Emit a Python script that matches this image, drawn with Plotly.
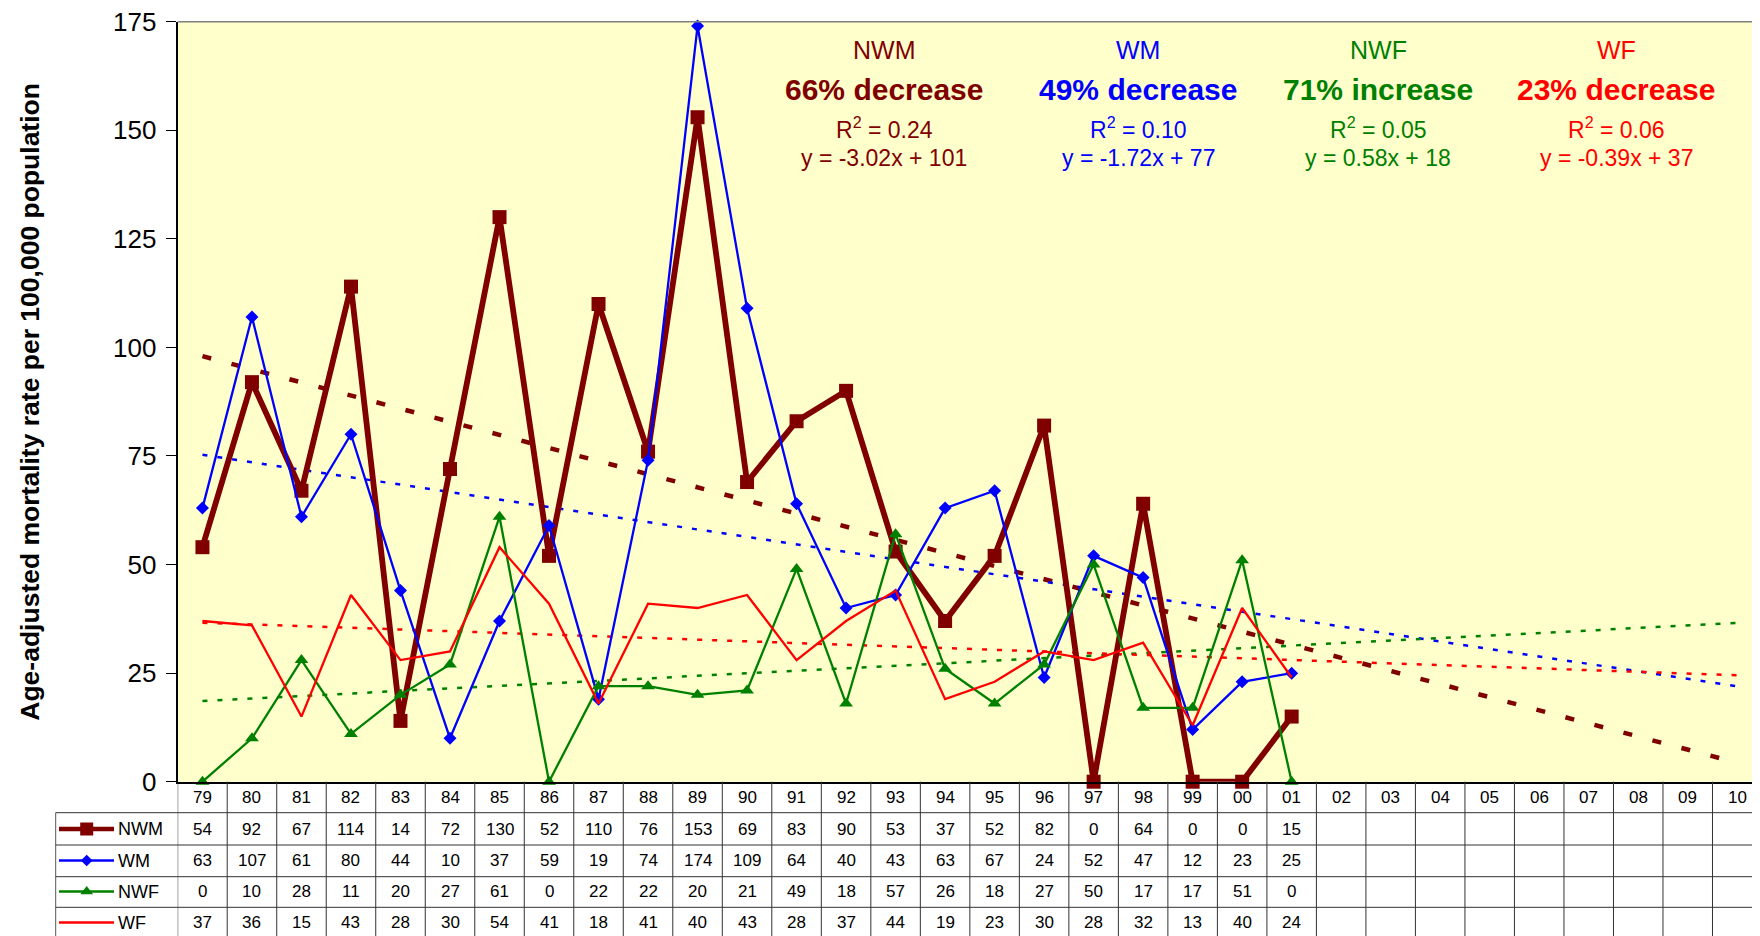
import plotly.graph_objects as go

# ── Data ──────────────────────────────────────────────────────────────────────
years = ["79", "80", "81", "82", "83", "84", "85", "86", "87", "88", "89",
         "90", "91", "92", "93", "94", "95", "96", "97", "98", "99", "00",
         "01", "02", "03", "04", "05", "06", "07", "08", "09", "10"]

nwm = [54, 92, 67, 114, 14, 72, 130, 52, 110, 76, 153, 69, 83, 90, 53, 37,
       52, 82, 0, 64, 0, 0, 15]
wm = [63, 107, 61, 80, 44, 10, 37, 59, 19, 74, 174, 109, 64, 40, 43, 63,
      67, 24, 52, 47, 12, 23, 25]
nwf = [0, 10, 28, 11, 20, 27, 61, 0, 22, 22, 20, 21, 49, 18, 57, 26,
       18, 27, 50, 17, 17, 51, 0]
wf = [37, 36, 15, 43, 28, 30, 54, 41, 18, 41, 40, 43, 28, 37, 44, 19,
      23, 30, 28, 32, 13, 40, 24]

series_names = ["NWM", "WM", "NWF", "WF"]
change_text = ["66% decrease", "49% decrease", "71% increase", "23% decrease"]
r_squared = [0.24, 0.10, 0.05, 0.06]
slopes = [-3.02, -1.72, 0.58, -0.39]
intercepts = [101, 77, 18, 37]

# ── Styling ───────────────────────────────────────────────────────────────────
W, H = 1760, 936
OFF = 8          # page body margin: figure is drawn 8px in from the window corner
FONT = "Liberation Sans, Arial, sans-serif"
PLOT_L, PLOT_T, PLOT_B = 177.7, 21.7, 781.7
ROW_Y = [797, 829, 860.5, 891.5, 922.5]          # header + 4 rows (screen px centres)
ROW_LINES = [812.7, 845, 876.7, 907.3]
TABLE_L = 55.7

COLORS = ["#800000", "#0000FF", "#008000", "#FF0000"]
LINE_W = [5.8, 2.3, 2.3, 2.3]
MARKERS = [dict(symbol="square", size=14), dict(symbol="diamond", size=10),
           dict(symbol="triangle-up", size=12), None]
TREND_W = [4.5, 2.5, 2.5, 2.5]
TREND_DASH = ["9px,21px", "5px,10px", "5px,10px", "5px,10px"]
LABEL_X = [884, 1138, 1378, 1616]


def py(px):   # screen pixel row -> paper y
    return 1 - (px - OFF) / H


def pxx(px):  # screen pixel column -> paper x
    return (px - OFF) / W


def txt_ann(x, y, text, size, color="black", xref="paper", xanchor="center", angle=0):
    return dict(x=x, y=y, xref=xref, yref="paper", text=text, showarrow=False,
                xanchor=xanchor, yanchor="middle", textangle=angle,
                font=dict(size=size, color=color, family=FONT))


fig = go.Figure()
data = [nwm, wm, nwf, wf]

# trend lines (Excel numbering x = 1..32)
for i in range(4):
    k0, k1 = 1, len(years)
    fig.add_trace(go.Scatter(
        x=[years[0], years[-1]],
        y=[slopes[i] * k0 + intercepts[i], slopes[i] * k1 + intercepts[i]],
        mode="lines",
        line=dict(color=COLORS[i], width=TREND_W[i], dash=TREND_DASH[i]),
        showlegend=False, hoverinfo="skip", cliponaxis=False,
    ))

# series
for i in range(4):
    mk = MARKERS[i]
    fig.add_trace(go.Scatter(
        x=years[:len(data[i])],
        y=data[i],
        mode="lines+markers" if mk else "lines",
        line=dict(color=COLORS[i], width=LINE_W[i]),
        marker=dict(color=COLORS[i], line=dict(width=0), **mk) if mk else None,
        name=series_names[i], showlegend=False, cliponaxis=False,
    ))

# legend keys in the table (pixel overlay axes, figure pixels)
for i in range(4):
    mk = MARKERS[i]
    yk = ROW_Y[i + 1] - OFF
    xs = [59 - OFF, 86.7 - OFF, 114 - OFF]
    fig.add_trace(go.Scatter(
        x=xs, y=[yk, yk, yk],
        xaxis="x2", yaxis="y2",
        mode="lines",
        line=dict(color=COLORS[i], width=4.5 if i == 0 else 2.5),
        showlegend=False, hoverinfo="skip", cliponaxis=False,
    ))
    if mk:
        fig.add_trace(go.Scatter(
            x=[xs[1]], y=[yk], xaxis="x2", yaxis="y2", mode="markers",
            marker=dict(color=COLORS[i], line=dict(width=0),
                        symbol=mk["symbol"], size=mk["size"] - 1),
            showlegend=False, hoverinfo="skip", cliponaxis=False,
        ))

ann = []
# header row of years
for j, y in enumerate(years):
    ann.append(txt_ann(j, py(ROW_Y[0]), y, 17, xref="x"))
# value rows
for i in range(4):
    for j, v in enumerate(data[i]):
        ann.append(txt_ann(j, py(ROW_Y[i + 1]), str(v), 17, xref="x"))
    ann.append(txt_ann(pxx(116), py(ROW_Y[i + 1]), series_names[i], 18, xanchor="left"))

# trend summaries
for i in range(4):
    sign = "-" if slopes[i] < 0 else ""
    lines = [
        (series_names[i], 50, 25),
        (f"<b>{change_text[i]}</b>", 89, 30),
        (f"R<sup>2</sup> = {r_squared[i]:.2f}", 128, 23),
        (f"y = {sign}{abs(slopes[i]):.2f}x + {intercepts[i]}", 158.5, 23),
    ]
    for t, ypx, sz in lines:
        ann.append(txt_ann(pxx(LABEL_X[i]), py(ypx), t, sz, color=COLORS[i]))

# y axis title
ann.append(txt_ann(pxx(30), py((PLOT_T + PLOT_B) / 2),
                   "<b>Age-adjusted mortality rate per 100,000 population</b>",
                   26.5, angle=-90))

# table grid + frame
shapes = [
    dict(type="rect", xref="x domain", yref="y domain", x0=0, x1=1, y0=0, y1=1,
         fillcolor="#FFFFCC", line=dict(width=0), layer="below"),
    dict(type="line", xref="paper", yref="paper", x0=pxx(PLOT_L), x1=1,
         y0=py(PLOT_T), y1=py(PLOT_T), line=dict(color="#808080", width=1.5)),
    dict(type="line", xref="paper", yref="paper", x0=pxx(TABLE_L), x1=pxx(TABLE_L),
         y0=py(ROW_LINES[0]), y1=0, line=dict(color="#555555", width=1)),
]
for yl in ROW_LINES:
    shapes.append(dict(type="line", xref="paper", yref="paper", x0=pxx(TABLE_L), x1=1,
                       y0=py(yl), y1=py(yl), line=dict(color="#333333", width=1)))
for j in range(len(years) + 1):
    shapes.append(dict(type="line", xref="x", yref="paper", x0=j - 0.5, x1=j - 0.5,
                       y0=py(PLOT_B), y1=0, line=dict(color="#333333", width=1)))

fig.update_layout(
    template="none",
    width=W, height=H,
    margin=dict(l=0, r=0, t=0, b=0, pad=0, autoexpand=False),
    paper_bgcolor="white",
    plot_bgcolor="rgba(0,0,0,0)",
    font=dict(family=FONT, color="black"),
    showlegend=False,
    xaxis=dict(
        type="category", categoryorder="array", categoryarray=years,
        domain=[pxx(PLOT_L), pxx(1762)], range=[-0.5, len(years) - 0.5],
        showticklabels=False, ticks="", showgrid=False, zeroline=False,
        showline=True, linecolor="black", linewidth=2, anchor="y", automargin=False,
    ),
    yaxis=dict(
        domain=[py(PLOT_B), py(PLOT_T)], range=[0, 175], dtick=25,
        ticks="outside", ticklen=10, tickcolor="black", tickwidth=1,
        showgrid=False, zeroline=False, showline=True, linecolor="black",
        linewidth=2, tickfont=dict(size=26, family=FONT, color="black"),
        ticklabelstandoff=4, ticklabeloverflow="allow", anchor="x", automargin=False,
    ),
    xaxis2=dict(domain=[0, 1], range=[0, W], visible=False, anchor="y2",
                automargin=False),
    yaxis2=dict(domain=[0, 1], range=[H, 0], visible=False, anchor="x2",
                automargin=False),
    annotations=ann,
    shapes=shapes,
)

fig.write_html("out.html")
